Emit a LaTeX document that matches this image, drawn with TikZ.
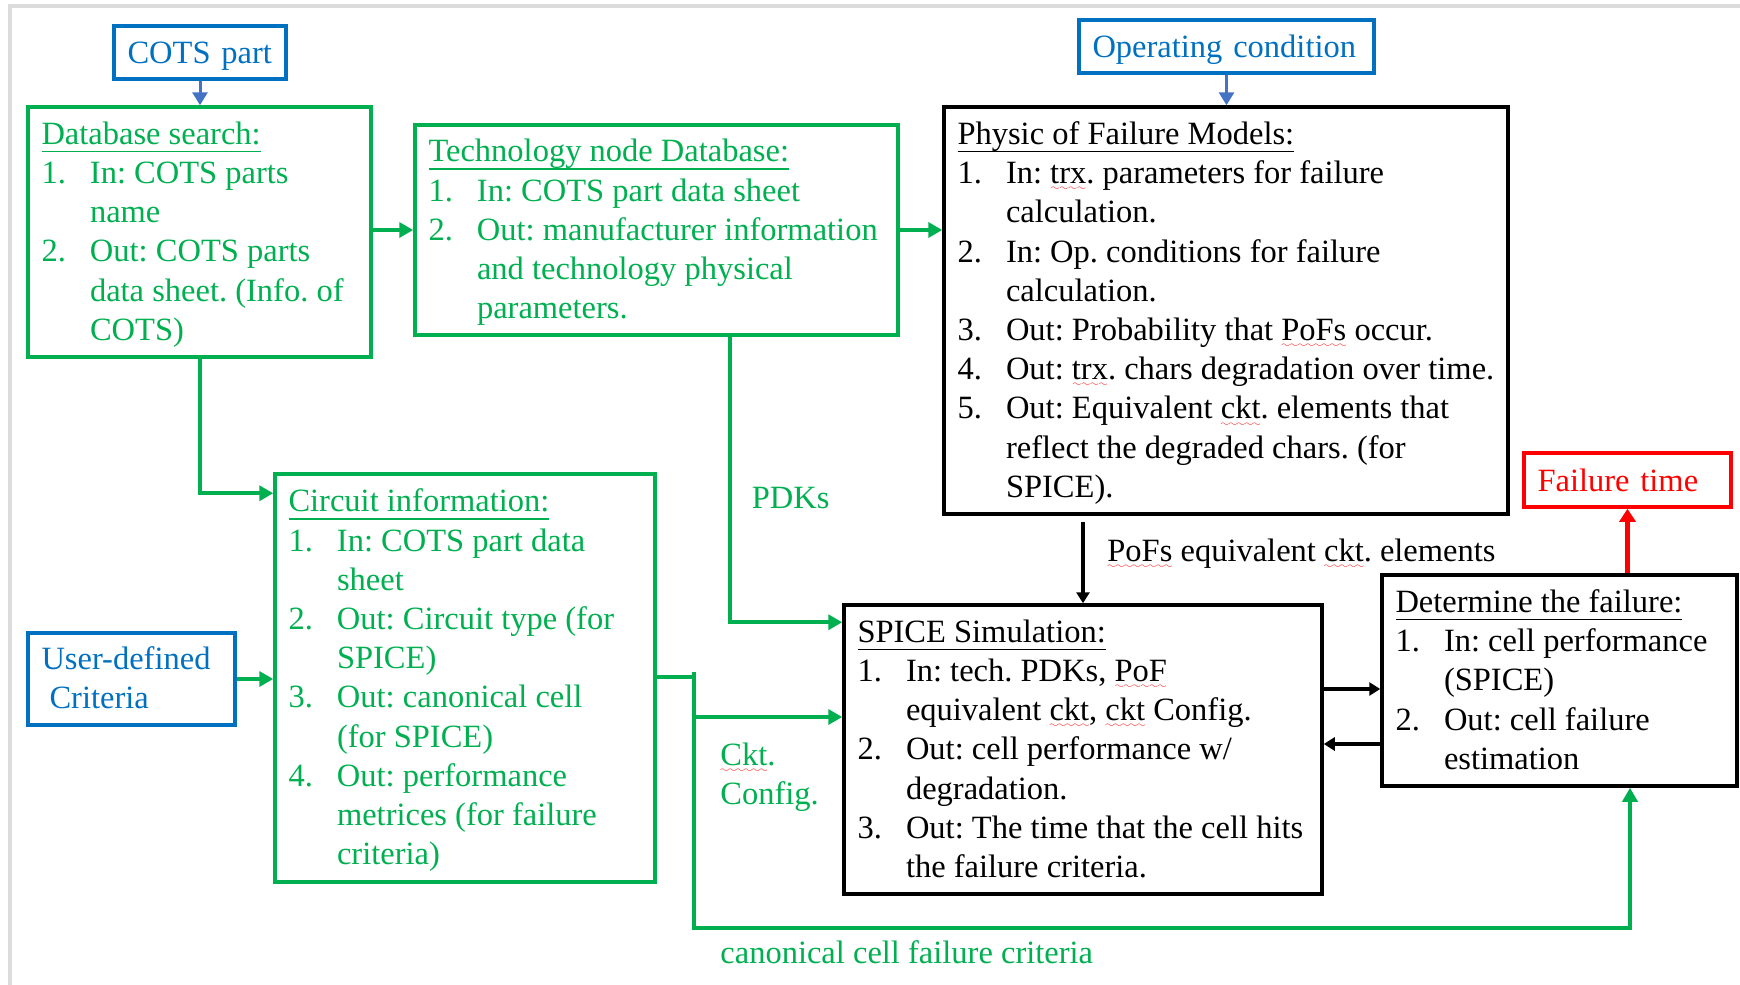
\documentclass[tikz,border=0pt]{standalone}
\usepackage{fontspec}
\setmainfont{Liberation Serif}
\usetikzlibrary{arrows.meta,calc}
\frenchspacing

\definecolor{cgreen}{HTML}{00B050}
\definecolor{cblue}{HTML}{0070C0}
\definecolor{cbluearrow}{HTML}{4472C4}
\definecolor{cred}{HTML}{FF0000}
\definecolor{cframe}{HTML}{DCDCDC}

\newcommand\mainsz{\fontsize{16.25}{19.6}\selectfont\spaceskip=0pt\xspaceskip=0pt}

% underlined heading with the rule just below the baseline
\newsavebox\ttlbox
\newcommand\ttl[1]{\sbox\ttlbox{#1}\rlap{\rule[-4pt]{\wd\ttlbox}{0.75pt}}\usebox\ttlbox}

% red wavy underline (spell-check style)
\newsavebox\sqbox
\font\wavefont=lasy6 at 4.5pt
\newcommand\sq[1]{\sbox\sqbox{#1}\rlap{\raisebox{-3.6pt}[0pt][0pt]{\textcolor{cred}{\hbox to\wd\sqbox{\xleaders\hbox{\wavefont\char58}\hfil}}}}\usebox\sqbox}

% one-line strut, baseline set a little lower than \strut
\newcommand\lowstrut{\rule[-4.28pt]{0pt}{19.6pt}}

% numbered list with a hanging indent
\newcommand\lst[1]{\spaceskip=0pt\xspaceskip=0pt\begin{tabular}{@{}p{24.25pt}@{}l@{}}\noalign{\vskip2.5pt}#1\end{tabular}}
\newcommand\hd[1]{\multicolumn{2}{@{}l@{}}{\ttl{#1}}\\}

\begin{document}
\begin{tikzpicture}[x=0.5pt,y=-0.5pt,font=\mainsz,line join=miter,
  box/.style={draw,line width=1.75pt,inner xsep=6.75pt,inner ysep=0pt,anchor=center},
  gbox/.style={box,draw=cgreen,text=cgreen},
  kbox/.style={box,draw=black,text=black},
  bbox/.style={box,draw=cblue,text=cblue},
  rbox/.style={box,draw=cred,text=cred},
  lbl/.style={anchor=base west,inner sep=0pt},
  garrow/.style={draw=cgreen,line width=2pt,-{Triangle[length=7pt,width=7.5pt]}},
  gline/.style={draw=cgreen,line width=2pt},
  karrow/.style={draw=black,line width=2pt,-{Triangle[length=5.5pt,width=6.5pt]}},
  barrow/.style={draw=cbluearrow,line width=1.5pt,-{Triangle[length=6.5pt,width=7.5pt]}},
  rarrow/.style={draw=cred,line width=2.25pt,-{Triangle[length=6.5pt,width=8pt]}}]

\useasboundingbox (0,0) rectangle (1740,985);
\draw[cframe,line width=1.6pt] (10,985) -- (10,6) -- (1740,6);

% input boxes
\node[bbox,text width=72.5pt,minimum height=26.5pt] (cots) at (200,52.5) {\lowstrut COTS part};
\node[bbox,text width=134pt,minimum height=26.5pt] (opc) at (1226.5,46.5) {\lowstrut Operating condition};
\node[bbox,text width=90pt,minimum height=46pt] (user) at (131.5,679)
  {\begin{tabular}{@{}l@{}}\noalign{\vskip2.5pt}User-defined\\\hspace*{4pt}Criteria\end{tabular}};
\node[rbox,text width=90pt,minimum height=27pt] (fail) at (1627.5,480) {\lowstrut Failure time};

% process boxes
\node[gbox,text width=158pt,minimum height=125pt] (db) at (199.5,232) {\lst{\hd{Database search:}
1.& In: COTS parts\\
  & name\\
2.& Out: COTS parts\\
  & data sheet. (Info. of\\
  & COTS)}};

\node[gbox,text width=228pt,minimum height=105pt] (tech) at (656.5,230) {\lst{\hd{Technology node Database:}
1.& In: COTS part data sheet\\
2.& Out: manufacturer information\\
  & and technology physical\\
  & parameters.}};

\node[kbox,text width=268.5pt,minimum height=203.5pt] (pof) at (1226,310.5) {\lst{\hd{Physic of Failure Models:}
1.& In: \sq{trx}. parameters for failure\\
  & calculation.\\
2.& In: Op. conditions for failure\\
  & calculation.\\
3.& Out: Probability that \sq{PoFs} occur.\\
4.& Out: \sq{trx}. chars degradation over time.\\
5.& Out: Equivalent \sq{ckt}. elements that\\
  & reflect the degraded chars. (for\\
  & SPICE).}};

\node[gbox,text width=176.5pt,minimum height=204pt] (circ) at (465,678) {\lst{\hd{Circuit information:}
1.& In: COTS part data\\
  & sheet\\
2.& Out: Circuit type (for\\
  & SPICE)\\
3.& Out: canonical cell\\
  & (for SPICE)\\
4.& Out: performance\\
  & metrices (for failure\\
  & criteria)}};

\node[kbox,text width=225.5pt,minimum height=144.5pt] (spice) at (1083,749.5) {\lst{\hd{SPICE Simulation:}
1.& In: tech. PDKs, \sq{PoF}\\
  & equivalent \sq{ckt}, \sq{ckt} Config.\\
2.& Out: cell performance w/\\
  & degradation.\\
3.& Out: The time that the cell hits\\
  & the failure criteria.}};

\node[kbox,text width=164pt,minimum height=105.5pt] (det) at (1559.5,680.5) {\lst{\hd{Determine the failure:}
1.& In: cell performance\\
  & (SPICE)\\
2.& Out: cell failure\\
  & estimation}};

% connector labels
\node[lbl,text=cgreen] (pdks) at (751.5,508) {PDKs};
\node[lbl] (pofl) at (1107,561) {\sq{PoFs} equivalent \sq{ckt}. elements};
\node[lbl,text=cgreen] (cktl) at (720,765) {\begin{tabular}[t]{@{}l@{}}\sq{Ckt}.\\Config.\end{tabular}};
\node[lbl,text=cgreen] (canl) at (720,963) {canonical cell failure criteria};

% blue inputs
\draw[barrow] (cots.south) -- (cots.south |- db.north);
\draw[barrow] (opc.south) -- (opc.south |- pof.north);

% green data flow
\draw[garrow] (tech.west -| db.east) -- (tech.west);
\draw[garrow] (tech.east) -- (tech.east -| pof.west);
\draw[garrow] (db.south) |- ($(circ.north west)+(0,21)$);
\draw[garrow] ($(tech.south)+(73.5,0)$) |- ($(spice.north west)+(0,19)$);
\draw[garrow] (user.east) -- (user.east -| circ.west);

\coordinate (bus) at ($(circ.east)+(37,-1)$);
\coordinate (busTop) at ($(bus)+(0,-5)$);
\coordinate (busMid) at ($(bus)+(0,40)$);
\coordinate (busBot) at ($(bus)+(0,251)$);
\draw[gline] (circ.east |- bus) -- (bus);
\draw[garrow] (busMid) -- (busMid -| spice.west);
\draw[garrow] (busTop) -- (busBot) -| ($(det.south)+(70.5,0)$);

% black simulation loop
\coordinate (pofOut) at ($(spice.north |- pof.south)+(0,6)$);
\draw[karrow] (pofOut) -- (spice.north);
\coordinate (sOut) at ($(spice.east)+(0,-60.5)$);
\draw[karrow] (sOut) -- (sOut -| det.west);
\coordinate (dOut) at ($(det.west)+(0,63.5)$);
\draw[karrow] (dOut) -- (dOut -| spice.east);

% result
\draw[rarrow] (fail.south |- det.north) -- (fail.south);

\end{tikzpicture}
\end{document}
